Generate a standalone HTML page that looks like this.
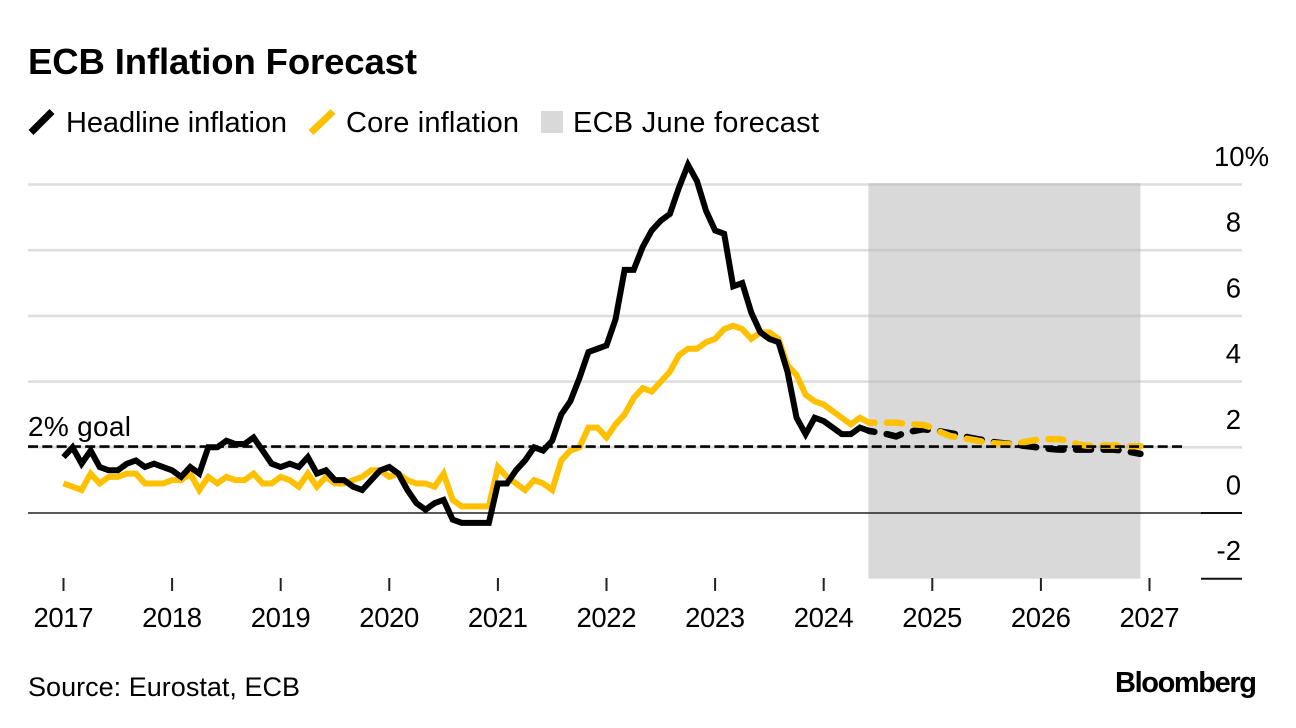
<!DOCTYPE html>
<html lang="en">
<head>
<meta charset="utf-8">
<title>ECB Inflation Forecast</title>
<style>
  html, body { margin: 0; padding: 0; background: #fff; }
  #chart { display: block; width: 1296px; height: 728px; }
  text { font-family: "Liberation Sans", sans-serif; fill: #000; }
</style>
</head>
<body>
<svg id="chart" xmlns="http://www.w3.org/2000/svg" width="1296" height="728" viewBox="0 0 1296 728">
  <text x="28" y="74" font-size="36.5" font-weight="700" textLength="389" lengthAdjust="spacing">ECB Inflation Forecast</text>

  <g>
    <line x1="31" y1="132.5" x2="52" y2="111.5" stroke="#000" stroke-width="7"/>
    <text x="66" y="132" font-size="29" textLength="221" lengthAdjust="spacing">Headline inflation</text>
    <line x1="311" y1="132.5" x2="333" y2="111.5" stroke="#ffc000" stroke-width="7"/>
    <text x="346" y="132" font-size="29" textLength="173" lengthAdjust="spacing">Core inflation</text>
    <rect x="541" y="111" width="22" height="22" fill="#d9d9d9"/>
    <text x="573" y="132" font-size="29" textLength="246" lengthAdjust="spacing">ECB June forecast</text>
  </g>

  <g id="plot"></g>

  <text x="28" y="436" font-size="28" textLength="103" lengthAdjust="spacing">2% goal</text>
  <text x="28" y="696" font-size="27" textLength="272" lengthAdjust="spacing">Source: Eurostat, ECB</text>
  <text x="1115" y="692" font-size="29" font-weight="700" textLength="142" lengthAdjust="spacing">Bloomberg</text>
</svg>

<script>
const yearLabels = ['2017', '2018', '2019', '2020', '2021', '2022', '2023', '2024', '2025', '2026', '2027'];
const yTicks = [10, 8, 6, 4, 2, 0, -2];
const yTickLabels = ['10%', '8', '6', '4', '2', '0', '-2'];
const goalValue = 2;
const forecastStartMonth = 89;
const forecastEndMonth = 119;

const headlineActual = [
  1.7, 2.0, 1.5, 1.9, 1.4, 1.3, 1.3, 1.5, 1.6, 1.4, 1.5, 1.4,
  1.3, 1.1, 1.4, 1.2, 2.0, 2.0, 2.2, 2.1, 2.1, 2.3, 1.9, 1.5,
  1.4, 1.5, 1.4, 1.7, 1.2, 1.3, 1.0, 1.0, 0.8, 0.7, 1.0, 1.3,
  1.4, 1.2, 0.7, 0.3, 0.1, 0.3, 0.4, -0.2, -0.3, -0.3, -0.3, -0.3,
  0.9, 0.9, 1.3, 1.6, 2.0, 1.9, 2.2, 3.0, 3.4, 4.1, 4.9, 5.0,
  5.1, 5.9, 7.4, 7.4, 8.1, 8.6, 8.9, 9.1, 9.9, 10.6, 10.1, 9.2,
  8.6, 8.5, 6.9, 7.0, 6.1, 5.5, 5.3, 5.2, 4.3, 2.9, 2.4, 2.9,
  2.8, 2.6, 2.4, 2.4, 2.6, 2.5
];
const coreActual = [
  0.9, 0.8, 0.7, 1.2, 0.9, 1.1, 1.1, 1.2, 1.2, 0.9, 0.9, 0.9,
  1.0, 1.0, 1.2, 0.7, 1.1, 0.9, 1.1, 1.0, 1.0, 1.2, 0.9, 0.9,
  1.1, 1.0, 0.8, 1.2, 0.8, 1.1, 0.9, 0.9, 1.0, 1.1, 1.3, 1.3,
  1.1, 1.2, 1.0, 0.9, 0.9, 0.8, 1.2, 0.4, 0.2, 0.2, 0.2, 0.2,
  1.4, 1.1, 0.9, 0.7, 1.0, 0.9, 0.7, 1.6, 1.9, 2.0, 2.6, 2.6,
  2.3, 2.7, 3.0, 3.5, 3.8, 3.7, 4.0, 4.3, 4.8, 5.0, 5.0, 5.2,
  5.3, 5.6, 5.7, 5.6, 5.3, 5.5, 5.5, 5.3, 4.5, 4.2, 3.6, 3.4,
  3.3, 3.1, 2.9, 2.7, 2.9, 2.75
];
const headlineForecast = [
  2.5, 2.45, 2.4, 2.33, 2.45, 2.5, 2.55,
  2.52, 2.48, 2.43, 2.38, 2.3, 2.25, 2.2, 2.15, 2.12, 2.1, 2.05, 2.02,
  1.98, 1.95, 1.93, 1.93, 1.93, 1.93, 1.93, 1.93, 1.93, 1.9, 1.85, 1.8
];
const coreForecast = [
  2.75, 2.75, 2.75, 2.75, 2.72, 2.7, 2.68,
  2.6, 2.45, 2.34, 2.3, 2.25, 2.2, 2.15, 2.12, 2.1, 2.1, 2.15, 2.2,
  2.25, 2.25, 2.25, 2.2, 2.1, 2.05, 2.05, 2.05, 2.05, 2.05, 2.03, 2.03
];

const X0 = 63.5, X_PER_MONTH = 9.05;
const Y0 = 513, Y_PER_UNIT = 32.85;
const xScale = function (month) { return X0 + X_PER_MONTH * month; };
const yScale = function (value) { return Y0 - Y_PER_UNIT * value; };

const plot = document.getElementById('plot');
const NS = 'http://www.w3.org/2000/svg';
function make(tag, attrs) {
  const node = document.createElementNS(NS, tag);
  Object.keys(attrs).forEach(function (k) { node.setAttribute(k, attrs[k]); });
  plot.appendChild(node);
  return node;
}
function pathFrom(values, startMonth) {
  return values.map(function (v, i) {
    return (i ? 'L' : 'M') + xScale(startMonth + i).toFixed(2) + ' ' + yScale(v).toFixed(2);
  }).join(' ');
}

// gridlines
yTicks.forEach(function (t) {
  if (t === 0 || t === -2) return;
  const grid = make('line', { x1: 28, x2: 1242, y1: yScale(t), y2: yScale(t), stroke: '#dedede', 'stroke-width': 2.6 });
  
  
});

// forecast shading
const shade = make('rect', {
  x: xScale(forecastStartMonth) - 0.5,
  y: yScale(10),
  width: xScale(forecastEndMonth) - xScale(forecastStartMonth) + 0.5,
  height: yScale(-2) - yScale(10),
  fill: '#d9d9d9'
});



// gridlines seen faintly through the shading
yTicks.forEach(function (t) {
  if (t === 0 || t === -2) return;
  const through = make('line', { x1: xScale(forecastStartMonth) - 0.5, x2: xScale(forecastEndMonth), y1: yScale(t), y2: yScale(t), stroke: '#c9c9c9', 'stroke-width': 2.6 });
  
  
});

// zero baseline and right-hand axis stubs
const zeroLine = make('line', { x1: 28, x2: 1201, y1: yScale(0), y2: yScale(0), stroke: '#222', 'stroke-width': 1.6 });


[0, -2].forEach(function (t) {
  const stub = make('line', { x1: 1201, x2: 1242, y1: yScale(t), y2: yScale(t), stroke: '#111', 'stroke-width': 2 });
  
  
});

// x ticks + labels
yearLabels.forEach(function (label, i) {
  const x = xScale(i * 12);
  const tick = make('line', { x1: x, x2: x, y1: 578, y2: 591, stroke: '#222', 'stroke-width': 2 });
  
  
  const text = make('text', { x: x, y: 627, 'font-size': 27.5, 'text-anchor': 'middle', textLength: 60, lengthAdjust: 'spacing' });
  
  
  text.textContent = label;
});

// y tick labels
yTicks.forEach(function (t, i) {
  const label = yTickLabels[i];
  const isTop = label.indexOf('%') >= 0;
  const text = make('text', { x: isTop ? 1214 : 1241, y: yScale(t) - 18.5, 'font-size': 27.5, 'text-anchor': isTop ? 'start' : 'end' });
  
  
  text.textContent = label;
});

// series
const coreLine = make('path', { d: pathFrom(coreActual, 0), fill: 'none', stroke: '#ffc000', 'stroke-width': 6, 'stroke-linejoin': 'miter' });



const headlineLine = make('path', { d: pathFrom(headlineActual, 0), fill: 'none', stroke: '#000', 'stroke-width': 6, 'stroke-linejoin': 'miter' });



const headlineDash = make('path', { d: pathFrom(headlineForecast, forecastStartMonth), fill: 'none', stroke: '#000', 'stroke-width': 6.5, 'stroke-dasharray': '15 12.5', 'stroke-dashoffset': 9.5, 'stroke-linecap': 'round' });



const coreDash = make('path', { d: pathFrom(coreForecast, forecastStartMonth), fill: 'none', stroke: '#ffc000', 'stroke-width': 6.5, 'stroke-dasharray': '15 12.5', 'stroke-dashoffset': 9.5, 'stroke-linecap': 'round' });



// goal line
const goalLine = make('line', { x1: 28, x2: 1186, y1: yScale(goalValue) - 0.7, y2: yScale(goalValue) - 0.7, stroke: '#000', 'stroke-width': 2.6, 'stroke-dasharray': '10 4.3' });


</script>
</body>
</html>
